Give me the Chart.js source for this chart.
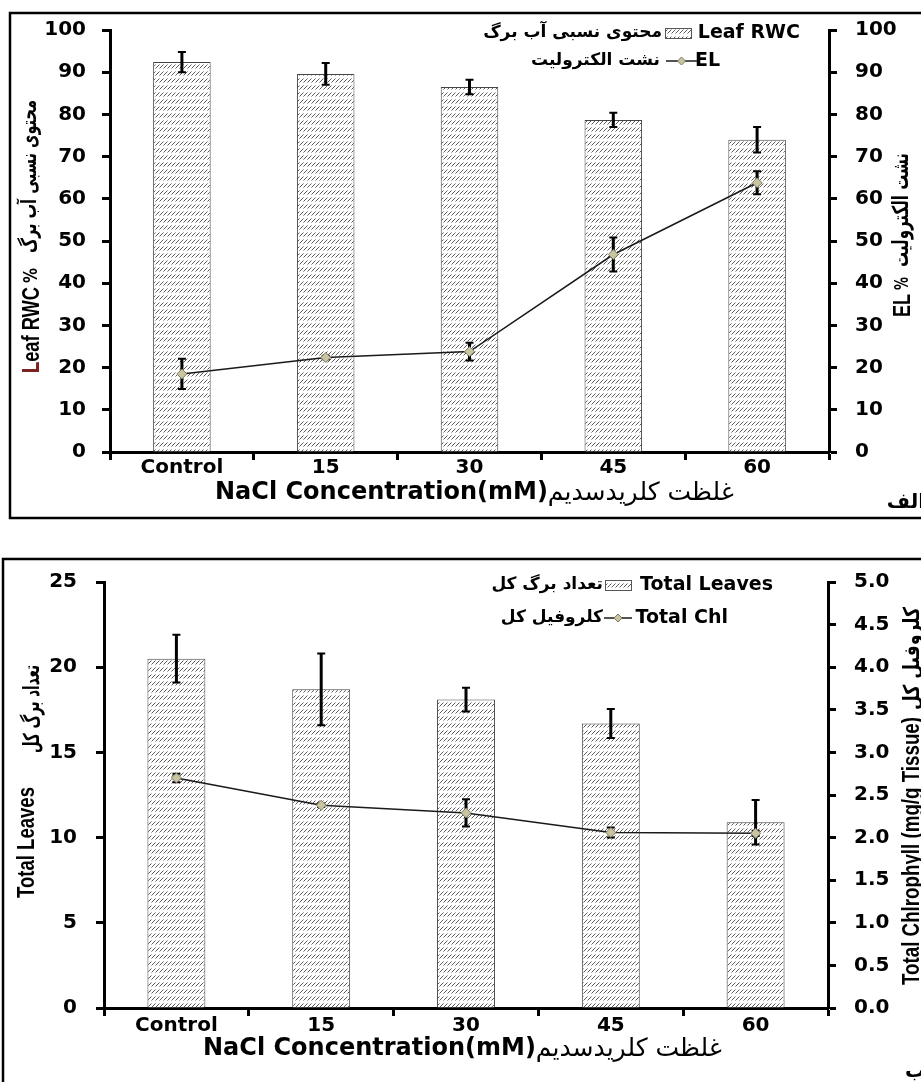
<!DOCTYPE html>
<html><head><meta charset="utf-8">
<script src="https://cdn.jsdelivr.net/npm/chart.js@4.4.0/dist/chart.umd.min.js"></script>
<style>
html,body{margin:0;padding:0;background:#fff;width:921px;height:1082px;overflow:hidden;}
.wrap{position:absolute;left:0;width:921px;}
canvas{display:block;}
</style></head><body>
<div class="wrap" style="top:0;height:530px"><canvas id="c1" width="921" height="530"></canvas></div>
<div class="wrap" style="top:540px;height:542px"><canvas id="c2" width="921" height="542"></canvas></div>
<script>
// ---------- data ----------
const categories = ['Control', '15', '30', '45', '60'];
const rwc      = [92.4, 89.6, 86.5, 78.7, 74.0];
const rwcErr   = [2.4, 2.6, 1.7, 1.7, 3.0];
const el       = [18.5, 22.4, 23.8, 46.8, 63.8];
const elErr    = [3.6, 0.4, 2.1, 4.0, 2.7];
const leaves   = [20.5, 18.7, 18.1, 16.7, 10.9];
const leavesErr= [1.4, 2.1, 0.7, 0.85, 1.3];
const chl      = [2.70, 2.38, 2.29, 2.06, 2.05];
const chlErr   = [0.05, 0.02, 0.16, 0.06, 0.03];

const LAT = 'DejaVu Sans';
const NARROW = '"Liberation Sans", sans-serif';

function hatch(ctx){
  const c = document.createElement('canvas'); c.width = 4; c.height = 7;
  const g = c.getContext('2d');
  g.fillStyle = '#fff'; g.fillRect(0,0,4,7);
  g.strokeStyle = '#5a5a5a'; g.lineWidth = 1;
  g.beginPath(); g.moveTo(-0.5,5.5); g.lineTo(3.5,1.5); g.moveTo(3.5,5.5); g.lineTo(7.5,1.5); g.stroke();
  return ctx.createPattern(c, 'repeat');
}

function drawErr(chart, i){
  const ds = chart.data.datasets[i];
  const meta = chart.getDatasetMeta(i);
  const ys = chart.scales[meta.yAxisID];
  const ctx = chart.ctx;
  ctx.save();
  ctx.strokeStyle = '#000';
  meta.data.forEach((pt, k) => {
    const v = ds.data[k], e = ds.errors[k];
    const x = pt.x, y1 = ys.getPixelForValue(v + e), y2 = ys.getPixelForValue(v - e);
    ctx.lineWidth = 3;
    ctx.beginPath(); ctx.moveTo(x, y1); ctx.lineTo(x, y2); ctx.stroke();
    ctx.lineWidth = 2;
    ctx.beginPath(); ctx.moveTo(x-4, y1); ctx.lineTo(x+4, y1); ctx.moveTo(x-4, y2); ctx.lineTo(x+4, y2); ctx.stroke();
  });
  ctx.restore();
}

const errPlugin = {
  id: 'errbars',
  afterDatasetDraw(chart, args){ if (chart.data.datasets[args.index].type === 'bar') drawErr(chart, args.index); },
  beforeDatasetDraw(chart, args){ if (chart.data.datasets[args.index].type === 'line') drawErr(chart, args.index); }
};

function drawRun(ctx, pieces, x, y){
  ctx.textAlign = 'left'; ctx.textBaseline = 'middle';
  let cx = x;
  pieces.forEach(p => {
    ctx.font = p.font; ctx.fillStyle = p.color || '#000';
    ctx.fillText(p.t, cx, y + (p.dy || 0));
    cx += ctx.measureText(p.t).width + (p.gap || 0);
  });
}
function runWidth(ctx, pieces){
  let w = 0;
  pieces.forEach(p => { ctx.font = p.font; w += ctx.measureText(p.t).width + (p.gap || 0); });
  return w;
}
// vertical piece: text rotated -90deg, fitted between yBottom and yTop, centred on cx
function vPiece(ctx, text, font, cx, yBottom, yTop, firstColor){
  ctx.save();
  ctx.translate(cx, yBottom); ctx.rotate(-Math.PI/2);
  ctx.font = font; ctx.textAlign = 'left'; ctx.textBaseline = 'middle';
  const m = ctx.measureText(text).width;
  ctx.scale((yBottom - yTop) / m, 1);
  ctx.fillStyle = '#000';
  ctx.fillText(text, 0, 0);
  if (firstColor){ ctx.fillStyle = firstColor; ctx.fillText(text[0], 0, 0); }
  ctx.restore();
}
function rightRun(ctx, pieces, rightX, y){
  const w = runWidth(ctx, pieces);
  drawRun(ctx, pieces, rightX - w, y);
}
function diamond(ctx, x, y, r){
  ctx.beginPath(); ctx.moveTo(x, y-r); ctx.lineTo(x+r, y); ctx.lineTo(x, y+r); ctx.lineTo(x-r, y); ctx.closePath();
  ctx.fillStyle = '#c9c4a2'; ctx.fill(); ctx.strokeStyle = '#7d7a62'; ctx.lineWidth = 1; ctx.stroke();
}
function legendBox(ctx, x, y, w, h){
  ctx.fillStyle = hatch(ctx); ctx.fillRect(x, y, w, h);
  ctx.strokeStyle = '#555'; ctx.lineWidth = 1; ctx.strokeRect(x+0.5, y+0.5, w, h);
}
function legendLine(ctx, x1, x2, y){
  ctx.strokeStyle = '#1a1a1a'; ctx.lineWidth = 1.5;
  ctx.beginPath(); ctx.moveTo(x1, y); ctx.lineTo(x2, y); ctx.stroke();
  diamond(ctx, (x1+x2)/2, y, 4);
}

function baseOptions(yMax, yStep, rightFmt, dims){
  const tickFont = {family: LAT, weight: 'bold', size: 20};
  const gridCfg = {display: true, drawOnChartArea: false, drawTicks: true, tickLength: 8, tickWidth: 3, tickColor: '#000'};
  return {
    responsive: false, animation: false, events: [],
    layout: {padding: {left: 0, right: 0, top: dims.top, bottom: 0}},
    plugins: {legend: {display: false}, tooltip: {enabled: false}},
    scales: {
      x: {
        type: 'category', offset: true,
        grid: Object.assign({}, gridCfg, {offset: true}),
        border: {display: true, color: '#000', width: 3},
        ticks: {font: tickFont, color: '#000', padding: dims.xpad, maxRotation: 0, autoSkip: false},
        afterFit(s){ s.height = dims.xh; }
      },
      y: {
        position: 'left', min: 0, max: yMax,
        grid: gridCfg,
        border: {display: true, color: '#000', width: 3},
        ticks: {font: tickFont, color: '#000', stepSize: yStep, padding: dims.lpad},
        afterFit(s){ s.width = dims.left; }
      },
      y2: {
        position: 'right', min: 0, max: rightFmt.max,
        grid: gridCfg,
        border: {display: true, color: '#000', width: 3},
        ticks: {font: tickFont, color: '#000', stepSize: rightFmt.step, padding: 18,
          callback: rightFmt.cb},
        afterFit(s){ s.width = dims.right; }
      }
    }
  };
}

// ---------- top chart ----------
const ctx1 = document.getElementById('c1').getContext('2d');
const deco1 = {
  id: 'deco1',
  afterDraw(chart){
    const ctx = chart.ctx;
    ctx.save();
    ctx.strokeStyle = '#000'; ctx.lineWidth = 2.5;
    ctx.strokeRect(10, 13, 930, 505);
    // left title: Leaf RWC % محتوی نسبی آب برگ
    vPiece(ctx, 'Leaf RWC', 'bold 24px ' + NARROW, 32, 373, 287, '#8a1c1c');
    vPiece(ctx, '%', 'bold 20px ' + LAT, 32, 283, 268);
    vPiece(ctx, 'محتوی نسبی آب برگ', 'bold 21px ' + LAT, 31, 253, 100);
    // right title: EL % نشت الکترولیت
    vPiece(ctx, 'EL', 'bold 24px ' + NARROW, 903, 317, 294);
    vPiece(ctx, '%', 'bold 20px ' + LAT, 903, 290, 277);
    vPiece(ctx, 'نشت الکترولیت', 'bold 22px ' + LAT, 902, 267, 153);
    drawRun(ctx, [
      {t: 'NaCl Concentration(mM)', font: 'bold 24px ' + LAT},
      {t: 'غلظت کلریدسدیم', font: '25px ' + LAT}
    ], 215, 493);
    rightRun(ctx, [{t: 'Leaf RWC', font: 'bold 19px ' + LAT}], 800, 33);
    legendBox(ctx, 665, 28, 26, 10);
    rightRun(ctx, [{t: 'محتوی نسبی آب برگ', font: 'bold 17px ' + LAT}], 662, 33);
    rightRun(ctx, [{t: 'EL', font: 'bold 19px ' + LAT}], 720, 61);
    legendLine(ctx, 666, 697, 61);
    rightRun(ctx, [{t: 'نشت الکترولیت', font: 'bold 17px ' + LAT}], 660, 61);
    rightRun(ctx, [{t: 'الف', font: 'bold 20px ' + LAT}], 925, 503);
    ctx.restore();
  }
};
new Chart(ctx1, {
  data: {
    labels: categories,
    datasets: [
      {type: 'line', label: 'EL', data: el, errors: elErr, yAxisID: 'y2', order: 1,
       borderColor: '#1a1a1a', borderWidth: 1.5, tension: 0,
       pointStyle: 'rectRot', pointRadius: 5, pointBackgroundColor: '#c9c4a2', pointBorderColor: '#7d7a62', pointBorderWidth: 1},
      {type: 'bar', label: 'Leaf RWC', data: rwc, errors: rwcErr, yAxisID: 'y', order: 2,
       backgroundColor: hatch(ctx1), borderColor: '#444', borderWidth: 1,
       barPercentage: 0.4, categoryPercentage: 1.0}
    ]
  },
  options: baseOptions(100, 10, {max: 100, step: 10, cb: v => v}, {top: 27, xh: 78, left: 110, right: 92, xpad: -4, lpad: 16}),
  plugins: [errPlugin, deco1]
});

// ---------- bottom chart ----------
const ctx2 = document.getElementById('c2').getContext('2d');
const deco2 = {
  id: 'deco2',
  afterDraw(chart){
    const ctx = chart.ctx;
    ctx.save();
    ctx.strokeStyle = '#000'; ctx.lineWidth = 2.5;
    ctx.strokeRect(3, 19, 940, 560);
    // left title: Total Leaves  تعداد برگ کل
    vPiece(ctx, 'Total Leaves', 'bold 24px ' + NARROW, 27, 358, 247);
    vPiece(ctx, 'تعداد برگ کل', 'bold 22px ' + LAT, 33, 213, 125);
    // right title: Total Chlrophyll (mg/g Tissue)  کلروفیل کل
    vPiece(ctx, 'Total Chlrophyll (mg/g Tissue)', 'bold 24px ' + NARROW, 912, 445, 177);
    vPiece(ctx, 'کلروفیل کل', 'bold 22px ' + LAT, 913, 170, 67);
    drawRun(ctx, [
      {t: 'NaCl Concentration(mM)', font: 'bold 24px ' + LAT},
      {t: 'غلظت کلریدسدیم', font: '25px ' + LAT}
    ], 203, 509);
    rightRun(ctx, [{t: 'Total Leaves', font: 'bold 19px ' + LAT}], 773, 45);
    legendBox(ctx, 605, 40, 26, 10);
    rightRun(ctx, [{t: 'تعداد برگ کل', font: 'bold 17px ' + LAT}], 603, 45);
    rightRun(ctx, [{t: 'Total Chl', font: 'bold 19px ' + LAT}], 728, 78);
    legendLine(ctx, 604, 632, 78);
    rightRun(ctx, [{t: 'کلروفیل کل', font: 'bold 17px ' + LAT}], 603, 78);
    rightRun(ctx, [{t: 'ب', font: 'bold 20px ' + LAT}], 925, 532);
    ctx.restore();
  }
};
new Chart(ctx2, {
  data: {
    labels: categories,
    datasets: [
      {type: 'line', label: 'Total Chl', data: chl, errors: chlErr, yAxisID: 'y2', order: 1,
       borderColor: '#1a1a1a', borderWidth: 1.5, tension: 0,
       pointStyle: 'rectRot', pointRadius: 5, pointBackgroundColor: '#c9c4a2', pointBorderColor: '#7d7a62', pointBorderWidth: 1},
      {type: 'bar', label: 'Total Leaves', data: leaves, errors: leavesErr, yAxisID: 'y', order: 2,
       backgroundColor: hatch(ctx2), borderColor: '#444', borderWidth: 1,
       barPercentage: 0.4, categoryPercentage: 1.0}
    ]
  },
  options: baseOptions(25, 5, {max: 5, step: 0.5, cb: v => Number(v).toFixed(1)}, {top: 42, xh: 74, left: 104, right: 93, xpad: -2, lpad: 19}),
  plugins: [errPlugin, deco2]
});
</script>
</body></html>
